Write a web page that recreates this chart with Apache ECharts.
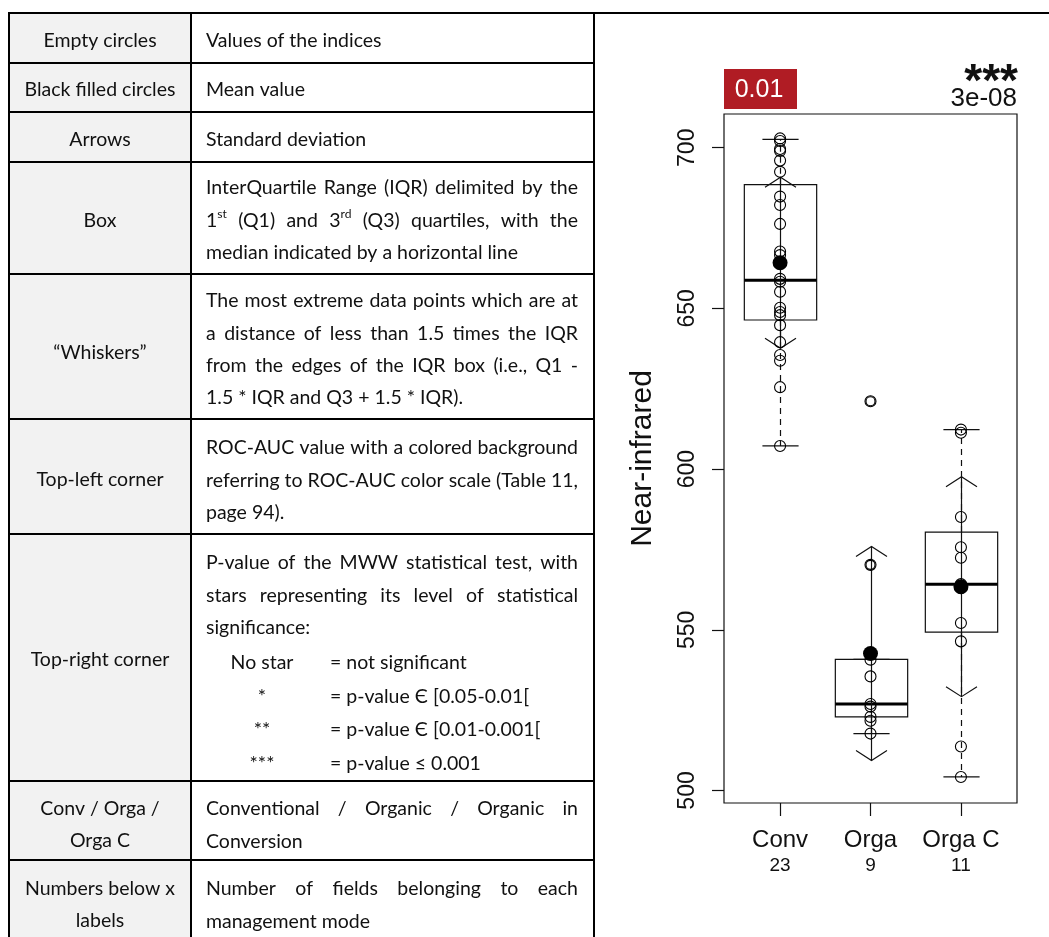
<!DOCTYPE html>
<html>
<head>
<meta charset="utf-8">
<script src="https://cdn.jsdelivr.net/npm/echarts@6/dist/echarts.min.js"></script>
<style>
html,body{margin:0;padding:0;background:#fff;}
#c{width:1049px;height:937px;}
</style>
</head>
<body>
<div id="c"></div>
<script>
// ---------------- DATA ----------------
const categories = ['Conv', 'Orga', 'Orga C'];
const categoryPos = [1, 2, 3];
const fieldCounts = [23, 9, 11];
const convValues = [702.9, 702.1, 699.6, 699.0, 696.0, 692.5, 684.8, 682.2, 676.3, 667.7, 666.6, 659.2,
                    658.3, 655.2, 650.2, 648.9, 647.9, 644.8, 639.5, 635.5, 633.7, 625.5, 607.2];
const orgaValues = [621.1, 570.2, 540.7, 535.5, 526.9, 526.1, 522.9, 521.7, 517.7];
const orgaCValues = [612.3, 611.3, 585.1, 575.7, 572.4, 564.2, 563.0, 552.1, 546.4, 513.7, 504.2];
const boxQ1 = [646.4, 522.9, 549.3];
const boxMedian = [658.8, 526.9, 564.2];
const boxQ3 = [688.5, 540.8, 580.4];
const whiskerLow = [607.2, 517.7, 504.2];
const whiskerHigh = [702.6, 540.8, 612.3];
const means = [664.2, 542.6, 563.4];
const sds = [26.6, 33.3, 34.2];
const orgaOutliers = [570.2, 621.1];
const yTicks = [500, 550, 600, 650, 700];
const yTitle = 'Near-infrared';
const rocAuc = '0.01';
const pValue = '3e-08';
const pStars = '***';

// table texts
const tableLeftLabels = [
  ['Empty circles'], ['Black filled circles'], ['Arrows'], ['Box'], ['“Whiskers”'],
  ['Top-left corner'], ['Top-right corner'], ['Conv / Orga /', 'Orga C'], ['Numbers below x', 'labels']
];
const tableRightLines = [
  [['Values of the indices', 0]],
  [['Mean value', 0]],
  [['Standard deviation', 0]],
  [['InterQuartile Range (IQR) delimited by the', 1], ['1^st (Q1) and 3^rd (Q3) quartiles, with the', 1], ['median indicated by a horizontal line', 0]],
  [['The most extreme data points which are at', 1], ['a distance of less than 1.5 times the IQR', 1], ['from the edges of the IQR box (i.e., Q1 -', 1], ['1.5 * IQR and Q3 + 1.5 * IQR).', 0]],
  [['ROC-AUC value with a colored background', 1], ['referring to ROC-AUC color scale (Table 11,', 1], ['page 94).', 0]],
  [['P-value of the MWW statistical test, with', 1], ['stars representing its level of statistical', 1], ['significance:', 0]],
  [['Conventional / Organic / Organic in', 1], ['Conversion', 0]],
  [['Number of fields belonging to each', 1], ['management mode', 0]]
];
const starKeys = ['No star', '*', '**', '***'];
const starMeanings = ['= not significant', '= p-value Є [0.05-0.01[', '= p-value Є [0.01-0.001[', '= p-value ≤ 0.001'];

// ---------------- LAYOUT ----------------
const ROW_EDGES = [13, 63, 112, 162, 274, 419, 534, 781, 860, 945];
const LEFT_Y = [[41], [90], [140], [221], [353], [480], [660], [809, 841], [889, 921]];
const RIGHT_FIRST_Y = [41, 90, 140, 188, 301, 448, 563, 809, 889];
const LINE_STEP = 32.4;
const STAR_Y = [663, 697, 730, 764];
const TX0 = 206, TX1 = 578;
const TABLE_FONT = 'Lato';
const CHART_FONT = 'Liberation Sans';
const INK = '#111';

const mctx = document.createElement('canvas').getContext('2d');
function measure(t, fs) { mctx.font = fs + 'px ' + TABLE_FONT; return mctx.measureText(t).width; }
const TFS = Math.round(100 * 177 / measure('Values of the indices', 100) * 2) / 2;

const elements = [];
function txt(t, x, y, fs, align, extra) {
  const font = fs + 'px ' + TABLE_FONT;
  elements.push(Object.assign({
    type: 'text', x: x, y: y, silent: true, z: 10,
    style: { text: t, font: font, fill: '#111', align: align, verticalAlign: 'middle', textAlign: align, textVerticalAlign: 'middle' }
  }, extra || {}));
}
function wordWidth(w, fs) {
  if (w.indexOf('^') >= 0) { const p = w.split('^'); return measure(p[0], fs) + measure(p[1], fs * 0.62); }
  return measure(w, fs);
}
function addWord(w, x, y, fs) {
  if (w.indexOf('^') >= 0) {
    const p = w.split('^');
    txt(p[0], x, y, fs, 'left');
    txt(p[1], x + measure(p[0], fs), y - fs * 0.3, fs * 0.62, 'left');
  } else txt(w, x, y, fs, 'left');
}
function placeLine(line, justify, y) {
  const words = line.split(' ');
  const hasSup = line.indexOf('^') >= 0;
  if (!justify && !hasSup) { txt(line, TX0, y, TFS, 'left'); return; }
  const widths = words.map(w => wordWidth(w, TFS));
  let gap = measure(' ', TFS);
  if (justify && words.length > 1) gap = (TX1 - TX0 - widths.reduce((a, b) => a + b, 0)) / (words.length - 1);
  let x = TX0;
  words.forEach((w, i) => { addWord(w, x, y, TFS); x += widths[i] + gap; });
}

// backgrounds of left column
for (let i = 0; i < 9; i++) {
  elements.push({ type: 'rect', silent: true, z: 1, shape: { x: 9, y: ROW_EDGES[i], width: 182, height: ROW_EDGES[i + 1] - ROW_EDGES[i] }, style: { fill: '#f2f2f2' } });
}
// borders
for (let i = 0; i < 9; i++) {
  const y = ROW_EDGES[i];
  elements.push({ type: 'line', silent: true, z: 5, shape: { x1: 8, y1: y, x2: i === 0 ? 1049 : 595, y2: y }, style: { stroke: '#000', lineWidth: 2 } });
}
[9, 191, 594].forEach(x => elements.push({ type: 'line', silent: true, z: 5, shape: { x1: x, y1: 12, x2: x, y2: 937 }, style: { stroke: '#000', lineWidth: 2 } }));

// texts
tableLeftLabels.forEach((lines, i) => lines.forEach((l, j) => txt(l, 100, LEFT_Y[i][j], TFS, 'center')));
tableRightLines.forEach((lines, i) => lines.forEach((l, j) => placeLine(l[0], l[1], RIGHT_FIRST_Y[i] + j * LINE_STEP)));
starKeys.forEach((k, i) => { txt(k, 262, STAR_Y[i], TFS, 'center'); txt(starMeanings[i], 330, STAR_Y[i], TFS, 'left'); });

// chart annotations
elements.push({ type: 'rect', silent: true, z: 10, shape: { x: 724, y: 69, width: 73, height: 40 }, style: { fill: '#b01c24' } });
elements.push({ type: 'text', silent: true, z: 11, x: 759, y: 90, style: { text: rocAuc, font: '25px ' + CHART_FONT, fill: '#fff', align: 'center', verticalAlign: 'middle', textAlign: 'center', textVerticalAlign: 'middle' } });
elements.push({ type: 'text', silent: true, z: 11, x: 1017, y: 99, style: { text: pValue, font: '26px ' + CHART_FONT, fill: '#111', align: 'right', verticalAlign: 'middle', textAlign: 'right', textVerticalAlign: 'middle' } });
elements.push({ type: 'text', silent: true, z: 11, x: 1018, y: 83, style: { text: pStars, font: 'bold 46px ' + CHART_FONT, fill: '#111', align: 'right', verticalAlign: 'middle', textAlign: 'right', textVerticalAlign: 'middle' } });

// ---------------- CHART ----------------
const chart = echarts.init(document.getElementById('c'), null, { renderer: 'canvas', width: 1049, height: 937 });

const lineSt = { stroke: INK, lineWidth: 1.2, fill: null };
const boxSeries = {
  type: 'custom', silent: true, z: 3,
  data: categoryPos.map((p, i) => [p, boxQ1[i], boxMedian[i], boxQ3[i], whiskerLow[i], whiskerHigh[i]]),
  renderItem: function (params, api) {
    const x = api.value(0);
    const pQ1 = api.coord([x, api.value(1)]);
    const pMed = api.coord([x, api.value(2)]);
    const pQ3 = api.coord([x, api.value(3)]);
    const pLo = api.coord([x, api.value(4)]);
    const pHi = api.coord([x, api.value(5)]);
    const cx = Math.round(pQ1[0]) + 0.5;
    const half = api.size([0.8, 0])[0] / 2;
    const cap = half / 2;
    return {
      type: 'group', children: [
        { type: 'line', shape: { x1: cx, y1: pQ3[1], x2: cx, y2: pHi[1] }, style: Object.assign({ lineDash: [6, 5] }, lineSt) },
        { type: 'line', shape: { x1: cx, y1: pQ1[1], x2: cx, y2: pLo[1] }, style: Object.assign({ lineDash: [6, 5] }, lineSt) },
        { type: 'line', shape: { x1: cx - cap, y1: pHi[1], x2: cx + cap, y2: pHi[1] }, style: lineSt },
        { type: 'line', shape: { x1: cx - cap, y1: pLo[1], x2: cx + cap, y2: pLo[1] }, style: lineSt },
        { type: 'rect', shape: { x: cx - half, y: pQ3[1], width: 2 * half, height: pQ1[1] - pQ3[1] }, style: { stroke: INK, lineWidth: 1.2, fill: 'none' } },
        { type: 'line', shape: { x1: cx - half, y1: pMed[1], x2: cx + half, y2: pMed[1] }, style: { stroke: '#000', lineWidth: 3 } }
      ]
    };
  }
};
const sdSeries = {
  type: 'custom', silent: true, z: 4,
  data: categoryPos.map((p, i) => [p, means[i], sds[i]]),
  renderItem: function (params, api) {
    const x = api.value(0), m = api.value(1), s = api.value(2);
    const pm = api.coord([x, m]), pu = api.coord([x, m + s]), pl = api.coord([x, m - s]);
    const cx = Math.round(pm[0]) + 0.5;
    const aw = 15.5, ah = 10;
    return {
      type: 'group', children: [
        { type: 'line', shape: { x1: cx, y1: pm[1], x2: cx, y2: pu[1] }, style: lineSt },
        { type: 'line', shape: { x1: cx, y1: pm[1], x2: cx, y2: pl[1] }, style: lineSt },
        { type: 'polyline', shape: { points: [[cx - aw, pu[1] + ah], [cx, pu[1]], [cx + aw, pu[1] + ah]] }, style: lineSt },
        { type: 'polyline', shape: { points: [[cx - aw, pl[1] - ah], [cx, pl[1]], [cx + aw, pl[1] - ah]] }, style: lineSt }
      ]
    };
  }
};
const emptyCircle = { color: 'rgba(0,0,0,0)', borderColor: '#000', borderWidth: 1.1, opacity: 1 };
const pointData = []
  .concat(convValues.map(v => [categoryPos[0], v]))
  .concat(orgaValues.map(v => [categoryPos[1], v]))
  .concat(orgaCValues.map(v => [categoryPos[2], v]));

const option = {
  animation: false,
  backgroundColor: '#fff',
  textStyle: { fontFamily: CHART_FONT },
  grid: {
    left: 724, top: 114, width: 293, height: 689,
    show: true, borderColor: INK, borderWidth: 1.2, backgroundColor: 'transparent',
    outerBoundsMode: 'none', containLabel: false
  },
  xAxis: {
    type: 'value', min: 0.38, max: 3.62,
    splitLine: { show: false },
    axisLine: { show: false },
    axisTick: { show: true, customValues: categoryPos, length: 13, lineStyle: { color: INK, width: 1.2 } },
    axisLabel: {
      show: true, customValues: categoryPos, margin: 24, hideOverlap: false,
      formatter: function (v) {
        const i = categoryPos.indexOf(Math.round(v));
        return '{a|' + categories[i] + '}\n{b|' + fieldCounts[i] + '}';
      },
      rich: {
        a: { fontSize: 24, lineHeight: 26, color: '#111', fontFamily: CHART_FONT },
        b: { fontSize: 19, lineHeight: 25, color: '#111', fontFamily: CHART_FONT }
      }
    }
  },
  yAxis: {
    type: 'value', min: 496.1, max: 710.5,
    splitLine: { show: false },
    axisLine: { show: false },
    axisTick: { show: true, customValues: yTicks, length: 12, lineStyle: { color: INK, width: 1.2 } },
    axisLabel: { show: true, customValues: yTicks, rotate: 90, margin: 25, fontSize: 23, color: '#111', fontFamily: CHART_FONT, hideOverlap: false },
    name: yTitle, nameLocation: 'middle', nameGap: 66, nameRotate: 90,
    nameTextStyle: { fontSize: 30, color: '#111', fontFamily: CHART_FONT }
  },
  graphic: { elements: elements },
  series: [
    boxSeries,
    {
      type: 'scatter', silent: true, z: 5, symbol: 'circle', symbolSize: 11,
      itemStyle: emptyCircle, data: pointData
    },
    {
      type: 'scatter', silent: true, z: 5, symbol: 'circle', symbolSize: 9,
      itemStyle: emptyCircle, data: orgaOutliers.map(v => [categoryPos[1], v])
    },
    sdSeries,
    {
      type: 'scatter', silent: true, z: 6, symbol: 'circle', symbolSize: 15,
      itemStyle: { color: '#000', opacity: 1 }, data: categoryPos.map((p, i) => [p, means[i]])
    }
  ]
};
chart.setOption(option);
</script>
</body>
</html>
